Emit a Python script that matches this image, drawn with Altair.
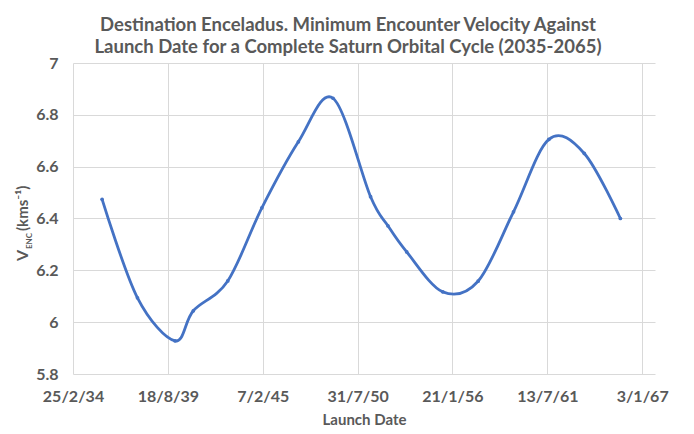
import datetime as dt
import altair as alt
import pandas as pd

# ---- data ----
launch_dates = ["2035-11-01", "2037-11-15", "2040-01-15", "2041-02-05", "2043-02-01",
                "2045-01-20", "2047-03-01", "2049-03-01", "2051-05-01", "2052-05-01",
                "2053-06-01", "2055-07-01", "2057-07-15", "2059-08-01", "2061-08-15",
                "2063-09-01", "2065-10-01"]
v_enc = [6.474, 6.094, 5.928, 6.044, 6.159, 6.441, 6.696, 6.864, 6.484, 6.372,
         6.271, 6.117, 6.158, 6.426, 6.705, 6.651, 6.400]
y_ticks = [5.8, 6.0, 6.2, 6.4, 6.6, 6.8, 7.0]
x_start = dt.date(2034, 2, 25)
x_step_days = 2000
x_tick_count = 7
x_end = dt.date(2067, 10, 1)

title_lines = ["Destination Enceladus. Minimum Encounter Velocity Against",
               "Launch Date for a Complete Saturn Orbital Cycle (2035-2065)"]

df = pd.DataFrame({"date": launch_dates, "v": v_enc})

def dtobj(d):
    return alt.DateTime(year=d.year, month=d.month, date=d.day, utc=True)

x_ticks = [dtobj(x_start + dt.timedelta(days=x_step_days * k)) for k in range(x_tick_count)]

GREY = "#595959"
BLUE = "#4472C4"
FONT = "Lato"

x_enc = alt.X("date:T",
              scale=alt.Scale(type="utc", domain=[dtobj(x_start), dtobj(x_end)]),
              axis=alt.Axis(values=x_ticks, labelExpr="utcFormat(datum.value, '%-d/%-m/%y')",
                            labelFlush=False, labelOverlap=False, labelAlign="center",
                            title="Launch Date", grid=True))
y_enc = alt.Y("v:Q", scale=alt.Scale(domain=[5.8, 7.0], zero=False, nice=False),
              axis=alt.Axis(values=y_ticks, format="~g", title=None, grid=True,
                            labelFlush=False, labelOverlap=False))

base = alt.Chart(df)
line = base.mark_line(interpolate="cardinal", color=BLUE, strokeWidth=2.8).encode(x=x_enc, y=y_enc)
pts = base.mark_point(filled=True, color=BLUE, size=14, opacity=1).encode(x=x_enc, y=y_enc)

def label(txt, x, y, size):
    return alt.Chart(pd.DataFrame({"t": [txt]})).mark_text(
        angle=270, align="left", baseline="alphabetic", font=FONT, fontWeight="bold",
        fontSize=size, color=GREY).encode(x=alt.value(x), y=alt.value(y), text="t:N")

ytitle = label("V", -45, 198, 16) + label("ENC", -41, 186, 8) + label("(kms\u207b\u00b9)", -45, 168, 15)

chart = alt.layer(line, pts, ytitle).properties(
    width=582, height=311,
    padding={"left": 65, "top": 55, "right": 31, "bottom": 52},
    autosize=alt.AutoSizeParams(type="none"),
    title=alt.TitleParams(text=title_lines, anchor="middle", dx=-16, offset=-1,
                          fontSize=18.5, lineHeight=22, font=FONT, fontWeight="bold", color=GREY),
).configure_view(stroke=None).configure_axis(
    domain=False, ticks=False, gridColor="#d9d9d9", gridWidth=1,
    labelFont=FONT, labelFontSize=16, labelFontWeight="bold", labelColor=GREY,
    titleFont=FONT, titleFontSize=15, titleFontWeight="bold", titleColor=GREY,
).configure_axisX(labelPadding=14, titlePadding=8).configure_axisY(labelPadding=15)

chart.save("out.html", embed_options={"renderer": "svg", "actions": False})
